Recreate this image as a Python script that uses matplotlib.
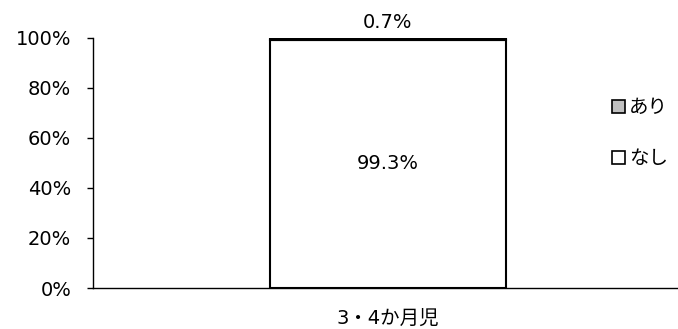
import matplotlib.pyplot as plt
from matplotlib.patches import Patch
from matplotlib.ticker import FuncFormatter

plt.rcParams['font.family'] = ['DejaVu Sans', 'Noto Sans CJK JP']

# データ
categories = ['3・4か月児']
nashi = [99.3]   # なし
ari = [0.7]      # あり
series_names = ['あり', 'なし']

GRAY = '#c0c0c0'
FS = 14

fig = plt.figure(figsize=(6.78, 3.29), dpi=100)
ax = fig.add_axes([0.137, 0.1246, 0.87, 0.760])

x = range(len(categories))
ax.bar(x, nashi, width=0.4, color='white', edgecolor='black', linewidth=1.5)
ax.bar(x, ari, width=0.4, bottom=nashi, color=GRAY, edgecolor='black', linewidth=1.5)

for i in x:
    ax.text(i, nashi[i] / 2, f'{nashi[i]}%', ha='center', va='center', fontsize=FS)
    ax.annotate(f'{ari[i]}%', (i, nashi[i] + ari[i]), xytext=(0, 11),
                textcoords='offset points', ha='center', va='center', fontsize=FS)

ax.set_xlim(-0.5, 0.5)
ax.set_ylim(0, 100)
ax.set_yticks(range(0, 101, 20))
ax.yaxis.set_major_formatter(FuncFormatter(lambda v, p: f'{v:.0f}%'))
ax.set_xticks(list(x))
ax.set_xticklabels(categories)
ax.tick_params(axis='x', length=0, pad=15, labelsize=FS)
ax.tick_params(axis='y', length=4.5, width=1, pad=11, labelsize=FS)

ax.spines['top'].set_visible(False)
ax.spines['right'].set_visible(False)
ax.spines['left'].set_linewidth(1)
ax.spines['bottom'].set_linewidth(1)

handles = [Patch(facecolor=GRAY, edgecolor='black', linewidth=1.2),
           Patch(facecolor='white', edgecolor='black', linewidth=1.2)]
fig.legend(handles, series_names, loc='center left', bbox_to_anchor=(0.889, 0.595),
           frameon=False, fontsize=FS, handlelength=0.65, handleheight=0.65,
           handletextpad=0.2, labelspacing=1.65, borderpad=0)

fig.savefig('out.png', dpi=100)
